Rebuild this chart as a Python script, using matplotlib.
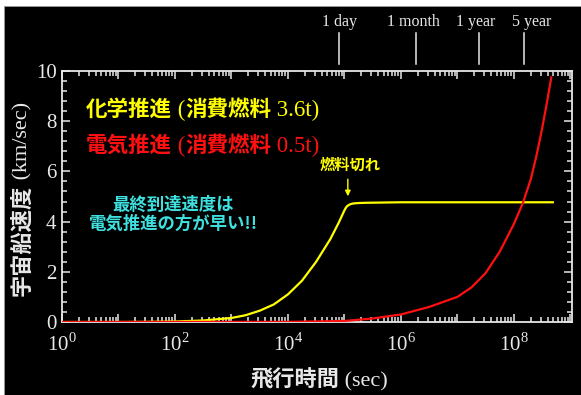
import matplotlib
matplotlib.use("Agg")
import matplotlib.pyplot as plt
from matplotlib.patches import Rectangle
from matplotlib.ticker import LogLocator, MultipleLocator, NullFormatter
from matplotlib.offsetbox import TextArea, HPacker, AnnotationBbox
import matplotlib.transforms as mtransforms

SERIF = 'Liberation Serif'
CJK = 'Noto Sans CJK JP'
plt.rcParams['font.family'] = [SERIF, CJK]
plt.rcParams['mathtext.fontset'] = 'custom'
plt.rcParams['mathtext.rm'] = SERIF

# chemical propulsion (flight time [s], speed [km/s])
chem_t = [1, 10, 32, 100, 316, 1000, 1780, 3160, 5620, 1e4, 1.78e4, 3.16e4,
          5.62e4, 7.9e4, 8.9e4, 1e5, 1.06e5, 1.12e5, 1.26e5, 1.41e5, 1.78e5,
          2.5e5, 1e6, 1e7, 4.9e8]
chem_v = [0, 0, 0.005, 0.02, 0.06, 0.16, 0.27, 0.45, 0.7, 1.1, 1.65, 2.4,
          3.3, 3.95, 4.2, 4.45, 4.55, 4.62, 4.69, 4.72, 4.74,
          4.75, 4.77, 4.77, 4.77]

# electric propulsion
elec_t = [1, 1e4, 1e5, 3.16e5, 1e6, 3.16e6, 1e7, 1.78e7, 3.16e7, 5.62e7,
          1e8, 1.45e8, 2e8, 2.5e8, 3.16e8, 4e8, 4.6e8]
elec_v = [0, 0.005, 0.04, 0.14, 0.3, 0.6, 1.0, 1.38, 1.95, 2.8,
          3.9, 4.75, 5.7, 6.6, 7.7, 8.95, 9.75]

# time markers on the top
mark_t = [8.1e4, 1.85e6, 2.45e7, 1.5e8]
mark_labels = ['1 day', '1 month', '1 year', '5 year']
mark_dx = [0, -3, -4, 8]   # label nudges in pixels

xticks = [1e0, 1e1, 1e2, 1e3, 1e4, 1e5, 1e6, 1e7, 1e8, 1e9]
xticklabels = ['$10^{0}$', '', '$10^{2}$', '', '$10^{4}$', '', '$10^{6}$', '',
               '$10^{8}$', '']

YELLOW = '#ffff00'
RED = '#ff1010'
CYAN = '#3ee0e0'
FG = '#e8e8e8'


def mixed_text(parts, color, size, xy, coords, align=(0, 0.5), lat_size=None):
    # parts: list of (text, is_cjk); CJK bold sans, latin normal serif
    boxes = []
    for s, cjk in parts:
        props = dict(color=color,
                     fontsize=size if cjk else (lat_size or size),
                     fontfamily=CJK if cjk else SERIF,
                     fontweight='bold' if cjk else 'normal')
        boxes.append(TextArea(s, textprops=props))
    pack = HPacker(children=boxes, align='baseline', pad=0, sep=0)
    ab = AnnotationBbox(pack, xy, xycoords=coords, box_alignment=align,
                        frameon=False, pad=0)
    return ab


fig = plt.figure(figsize=(5.81, 3.95), dpi=100)
fig.patch.set_facecolor('white')
fig.patches.append(Rectangle((4 / 581, 0), 577 / 581, 389 / 395,
                             transform=fig.transFigure, facecolor='black',
                             edgecolor='#999999', lw=0.6, zorder=-10))

ax = fig.add_axes([62 / 581, 1 - 322 / 395, 510 / 581, 251 / 395])
ax.set_facecolor('black')

ax.plot(chem_t, chem_v, color=YELLOW, lw=1.6, zorder=3)
ax.plot(elec_t, elec_v, color=RED, lw=1.6, zorder=4)

ax.set_xscale('log')
ax.set_xlim(1, 1.07e9)
ax.set_ylim(0, 10)

ax.set_xticks(xticks)
ax.set_xticklabels(xticklabels)
ax.xaxis.set_minor_locator(LogLocator(base=10, subs=range(2, 10), numticks=20))
ax.xaxis.set_minor_formatter(NullFormatter())
ax.yaxis.set_major_locator(MultipleLocator(2))
ax.yaxis.set_minor_locator(MultipleLocator(0.4))

ax.tick_params(which='both', direction='in', top=True, right=True,
               colors=FG, width=1.1)
ax.tick_params(which='major', length=6, labelsize=15, pad=4)
ax.tick_params(which='minor', length=3.5)
ax.tick_params(axis='x', which='major', pad=8)
for s in ax.spines.values():
    s.set_color(FG)
    s.set_linewidth(1.3)

# markers above the frame
trans = mtransforms.blended_transform_factory(ax.transData, ax.transAxes)
for t, lab, dx in zip(mark_t, mark_labels, mark_dx):
    ax.plot([t, t], [1.028, 1.151], color=FG, lw=1.1, transform=trans,
            clip_on=False)
    off = mtransforms.offset_copy(trans, fig=fig, x=dx, y=0, units='dots')
    ax.text(t, 1.195, lab, transform=off, ha='center', va='center',
            color=FG, fontsize=11.5, fontfamily=SERIF)

# legend-like texts
ax.add_artist(mixed_text([('化学推進', True), (' (', False), ('消費燃料', True),
                          (' 3.6t)', False)], YELLOW, 15.5,
                         (0.047, 0.845), ax.transAxes, lat_size=16.5))
ax.add_artist(mixed_text([('電気推進', True), (' (', False), ('消費燃料', True),
                          (' 0.5t)', False)], RED, 15.5,
                         (0.047, 0.701), ax.transAxes, lat_size=16.5))
ax.text(0.218, 0.43, '最終到達速度は\n電気推進の方が早い!!', transform=ax.transAxes,
        color=CYAN, fontsize=12.5, fontweight='bold', fontfamily=CJK,
        va='center', ha='center', linespacing=1.05)

ax.text(1.26e5, 6.25, '燃料切れ', color=YELLOW, fontsize=11, fontweight='bold',
        fontfamily=CJK, ha='center', va='center')
ax.annotate('', xy=(1.15e5, 4.9), xytext=(1.15e5, 5.8),
            arrowprops=dict(arrowstyle='-|>', color=YELLOW, lw=1,
                            mutation_scale=8))

# axis titles
fig.add_artist(mixed_text([('飛行時間', True), (' (sec)', False)], FG, 16,
                          (319 / 581, 1 - 380 / 395), fig.transFigure,
                          align=(0.5, 0.5)))
yl1 = fig.text(22 / 581, 1 - 296 / 395, '宇宙船速度', color=FG, fontsize=16,
               fontweight='bold', fontfamily=CJK, rotation=90,
               ha='center', va='bottom')
fig.add_artist(plt.Annotation(' (km/sec)', xy=(0.55, 1.0), xycoords=yl1,
                              color=FG, fontsize=16, fontfamily=SERIF,
                              rotation=90, ha='center', va='bottom'))

fig.savefig('out.png', dpi=100, facecolor=fig.get_facecolor())
